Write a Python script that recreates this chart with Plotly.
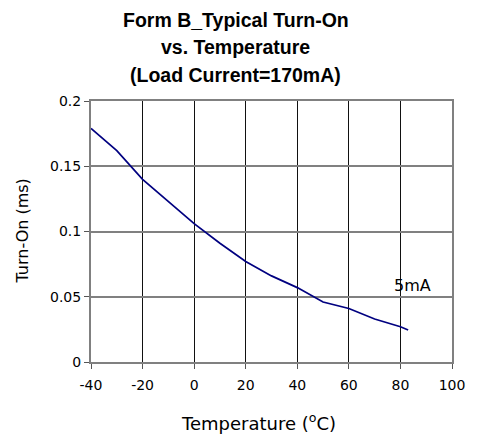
import plotly.graph_objects as go

temperature_c = [-40, -30, -20, -10, 0, 10, 20, 30, 40, 50, 60, 70, 80, 83]
turn_on_ms = [0.179, 0.162, 0.140, 0.123, 0.106, 0.091, 0.077, 0.066, 0.057, 0.046, 0.041, 0.033, 0.027, 0.0245]

title_lines = ["Form B_Typical Turn-On", "vs. Temperature", "(Load Current=170mA)"]
x_ticks = [-40, -20, 0, 20, 40, 60, 80, 100]
x_tick_labels = ["-40", "-20", "0", "20", "40", "60", "80", "100"]
y_ticks = [0, 0.05, 0.1, 0.15, 0.2]
y_tick_labels = ["0", "0.05", "0.1", "0.15", "0.2"]
x_title = "Temperature (<sup>o</sup>C)"
y_title = "Turn-On (ms)"
series_label = "5mA"
label_pos = (84.5, 0.059)

fig = go.Figure()
fig.add_trace(go.Scatter(x=temperature_c, y=turn_on_ms, mode="lines",
                         line=dict(color="#000080", width=1.7), showlegend=False,
                         hoverinfo="skip"))

tick_font = dict(family="DejaVu Sans", size=14, color="#000")

# page has an 8px body margin; the figure is sized to fit the 477x438 window
fig.update_layout(
    width=469, height=430,
    margin=dict(l=83, r=21, t=93, b=76),
    paper_bgcolor="white", plot_bgcolor="white",
    xaxis=dict(range=[-40, 100], tickvals=x_ticks, ticktext=x_tick_labels,
               ticks="outside", ticklen=5, tickcolor="#555",
               ticklabelstandoff=4,
               showgrid=True, gridcolor="#111", gridwidth=1,
               showline=True, linecolor="#808080", linewidth=2, mirror=True,
               zeroline=False, tickfont=tick_font),
    yaxis=dict(range=[0, 0.2], tickvals=y_ticks, ticktext=y_tick_labels,
               ticks="outside", ticklen=5, tickcolor="#555",
               showgrid=True, gridcolor="#808080", gridwidth=1.5,
               showline=True, linecolor="#808080", linewidth=2, mirror=True,
               zeroline=False, tickfont=tick_font),
)

title_y_centres = [20, 47, 75]  # page pixels
plot_top_page = 101
for line, yc in zip(title_lines, title_y_centres):
    fig.add_annotation(text=f"<b>{line}</b>", xref="paper", yref="paper",
                       x=0.401, y=1, showarrow=False,
                       font=dict(family="Liberation Sans", size=19.5, color="#000"),
                       xanchor="center", yanchor="middle",
                       yshift=plot_top_page - yc)

fig.add_annotation(text=x_title, xref="paper", yref="paper", x=0.463, y=0,
                   showarrow=False, xanchor="center", yanchor="middle",
                   yshift=-60,
                   font=dict(family="DejaVu Sans", size=18, color="#000"))
fig.add_annotation(text=y_title, xref="paper", yref="paper", x=0, y=0.5,
                   showarrow=False, xanchor="center", yanchor="middle",
                   textangle=-90, xshift=-69,
                   font=dict(family="DejaVu Sans", size=16, color="#000"))

fig.add_annotation(text=series_label, x=label_pos[0], y=label_pos[1], showarrow=False,
                   font=dict(family="DejaVu Sans", size=16, color="#000"))

fig.write_html("out.html")
